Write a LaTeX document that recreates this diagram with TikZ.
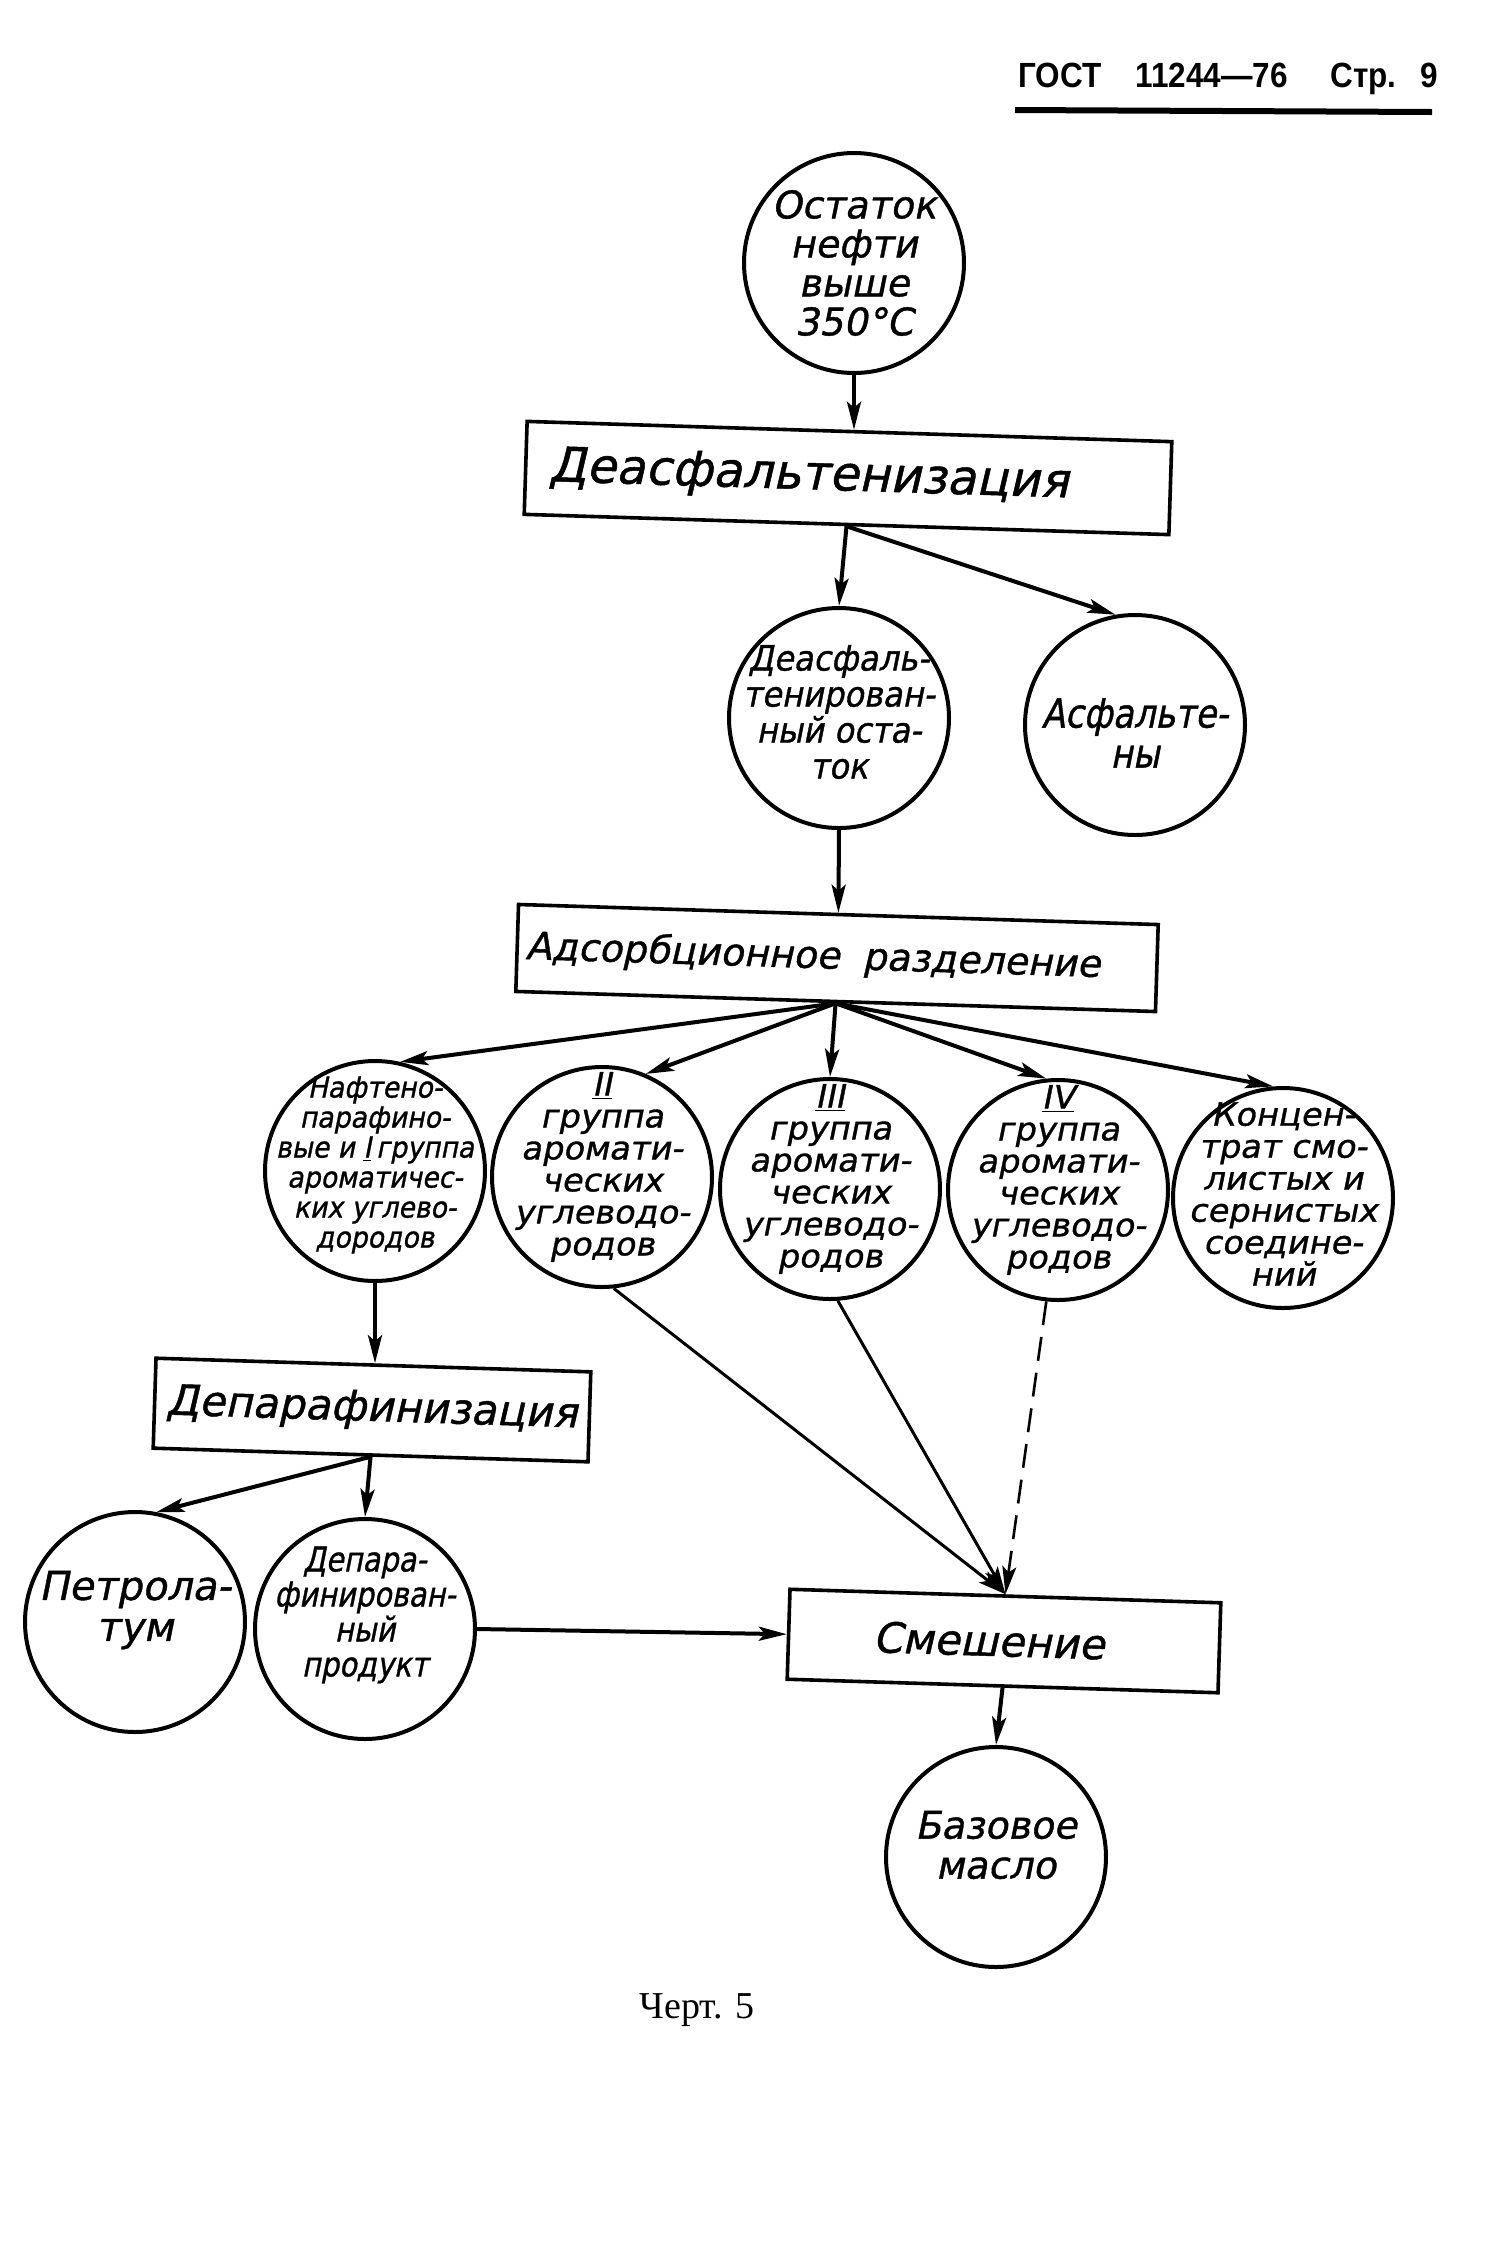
\documentclass[tikz,border=0pt]{standalone}
\usepackage{fontspec}
\usetikzlibrary{arrows.meta}
\newfontfamily\gost[FakeSlant=0.2,FakeBold=1]{DejaVu Sans}
\newfontfamily\gostc[FakeSlant=0.2,FakeStretch=0.85,FakeBold=1]{DejaVu Sans}
\newfontfamily\gostm[FakeSlant=0.2,FakeStretch=0.92,FakeBold=1]{DejaVu Sans}
\newfontfamily\gostw[FakeSlant=0.2,FakeStretch=1.05,FakeBold=1]{DejaVu Sans}
\newfontfamily\hdrfont[FakeStretch=0.9]{Liberation Sans}
\newfontfamily\capfont{Liberation Serif}
\newcommand\setfs[2]{\fontsize{#1}{#2}\selectfont}
\begin{document}
\begin{tikzpicture}[x=0.5pt,y=-0.5pt,
  circ/.style={circle, draw, line width=2pt, minimum size=110pt, inner sep=0pt},
  ctext/.style={align=center, inner sep=0pt},
  procbox/.style={draw, line width=1.8pt, inner sep=0pt, rotate=-1.8},
  arr/.style={line width=2pt, -{Stealth[length=14pt,width=7pt,inset=3pt]}},
  thinarr/.style={line width=1.5pt, -{Stealth[length=14pt,width=7pt,inset=3pt]}},
  dasharr/.style={line width=1.3pt, dash pattern=on 12pt off 6pt, -{Stealth[length=14pt,width=7pt,inset=3pt]}}]
\useasboundingbox (0,0) rectangle (1500,2250);

% header
\node[anchor=base west, inner sep=0pt, font=\hdrfont\bfseries\setfs{17.5pt}{20pt}] (hdr) at (1018,87)
  {\makebox[58.5pt][l]{ГОСТ}\makebox[97.5pt][l]{11244—76}\makebox[45pt][l]{Стр.}9};
\draw[line width=3pt] (1015,110) -- (1432,112);

% circles
\node[circ] (ost) at (854,263) {};
\node[circ] (deasost) at (839,718) {};
\node[circ] (asf) at (1135,725) {};
\node[circ] (naft) at (375,1171) {};
\node[circ] (g2) at (602,1177) {};
\node[circ] (g3) at (830,1189) {};
\node[circ] (g4) at (1058,1190) {};
\node[circ] (konc) at (1283,1198) {};
\node[circ] (petr) at (135,1622) {};
\node[circ] (depprod) at (365,1629) {};
\node[circ] (baz) at (996,1857) {};

% circle texts
\node[ctext, font=\gost\setfs{19pt}{19.5pt}] (ost-t) at (ost.center) {Остаток\\нефти\\выше\\350°C};
\node[ctext, font=\gostm\setfs{17.5pt}{18pt}] (deasost-t) at ([yshift=3pt]deasost.center)
  {Деасфаль-\\тенирован-\\ный оста-\\ток};
\node[ctext, font=\gostc\setfs{20pt}{20pt}] (asf-t) at ([yshift=-4pt]asf.center) {Асфальте-\\ны};
\node[ctext, font=\gostm\setfs{14.5pt}{15pt}] (naft-t) at ([yshift=3pt]naft.center)
  {Нафтено-\\парафино-\\вые и \underline{I}\,группа\\ароматичес-\\ких углево-\\дородов};
\node[ctext, font=\gostw\setfs{16pt}{16pt}] (g2-t) at ([yshift=5pt]g2.center)
  {\underline{II}\\группа\\аромати-\\ческих\\углеводо-\\родов};
\node[ctext, font=\gostw\setfs{16pt}{16pt}] (g3-t) at ([yshift=5pt]g3.center)
  {\underline{III}\\группа\\аромати-\\ческих\\углеводо-\\родов};
\node[ctext, font=\gostw\setfs{16pt}{16pt}] (g4-t) at ([yshift=5pt]g4.center)
  {\underline{IV}\\группа\\аромати-\\ческих\\углеводо-\\родов};
\node[ctext, font=\gostw\setfs{16pt}{16pt}] (konc-t) at ([yshift=2pt]konc.center)
  {Концен-\\трат смо-\\листых и\\сернистых\\соедине-\\ний};
\node[ctext, font=\gost\setfs{20pt}{20.5pt}] (petr-t) at ([yshift=6pt]petr.center) {Петрола-\\тум};
\node[ctext, font=\gostc\setfs{17pt}{17.5pt}] (depprod-t) at ([yshift=7pt]depprod.center)
  {Депара-\\финирован-\\ный\\продукт};
\node[ctext, font=\gost\setfs{19pt}{20pt}] (baz-t) at ([yshift=6pt]baz.center) {Базовое\\масло};

% boxes
\node[procbox, minimum width=322.5pt, minimum height=46.5pt, font=\gost\setfs{24pt}{24pt}] (b1) at (848,478)
  {Деасфальтенизация\hspace*{39pt}};
\node[procbox, minimum width=320pt, minimum height=43.5pt, font=\gost\setfs{19pt}{20pt}] (b2) at (837,958)
  {Адсорбционное\hspace{0.6em}разделение\hspace*{24pt}};
\node[procbox, minimum width=217.5pt, minimum height=45pt, font=\gost\setfs{21pt}{21pt}] (b3) at (372,1410)
  {Депарафинизация};
\node[procbox, minimum width=215.5pt, minimum height=45pt, font=\gost\setfs{21pt}{21pt}] (b4) at (1004,1641)
  {Смешение\hspace*{15pt}};

\node[anchor=base, inner sep=0pt, font=\capfont\setfs{19pt}{22pt}] (cap) at (697,2018) {Черт. 5};

% connectors
\draw[arr] (ost.south) -- (ost.south |- b1.north);
\draw[arr] (b1.south) -- (deasost.north);
\draw[arr] (b1.south) -- (asf.100);
\draw[arr] (deasost.south) -- (b2.north);
\draw[arr] (b2.south) -- (naft.77);
\draw[arr] (b2.south) -- (g2.67);
\draw[arr] (b2.south) -- (g3.north);
\draw[arr] (b2.south) -- (g4.96);
\draw[arr] (b2.south) -- (konc.95);
\draw[arr] (naft.south) -- (naft.south |- b3.north);
\draw[arr] (b3.south) -- (petr.79);
\draw[arr] (b3.south) -- (depprod.north);
\draw[arr] (depprod.east) -- (b4.west);
\draw[thinarr] (g2.-84) -- (b4.north);
\draw[thinarr] (g3.-86) -- (b4.north);
\draw[dasharr] (g4.-96) -- (b4.north);
\draw[arr] (b4.south) -- (baz.north);
\end{tikzpicture}
\end{document}
